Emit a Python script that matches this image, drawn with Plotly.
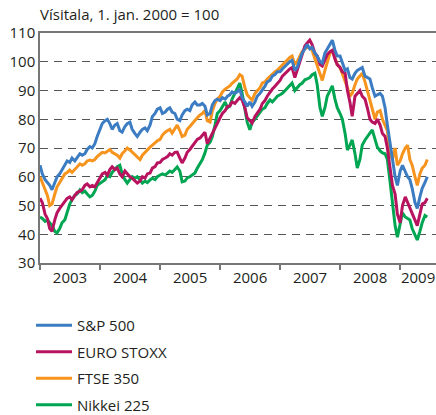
import pandas as pd
import plotly.graph_objects as go

# Semi-monthly observation dates (1st and 15th), Jan 2003 - Jun 2009
dates = pd.date_range("2003-01-01", "2009-06-15", freq="SMS")

sp500 = [
    64, 61, 59, 58, 57, 55.5, 58, 60, 61, 62.5, 64.5, 65.5, 65, 66.5, 65.5, 66.5, 68, 67.5, 68, 69.5, 70.5, 70, 71.5, 74,
    76.5, 78.5, 79.5, 80, 78.5, 76.5, 78, 78.5, 76, 75.5, 77.5, 78.5, 79, 76.5, 75, 74, 75.5, 76.5, 77, 76, 78, 81, 82, 83.5,
    84, 82, 82.5, 83.5, 84, 82.5, 82, 80, 79.5, 81.5, 83, 83.5, 83, 85, 86, 85, 85, 85.5, 84.5, 81.5, 82, 85, 86.5, 87,
    86.5, 87.5, 87, 88, 88.5, 89.5, 89, 89.5, 90.5, 87.5, 86, 84.5, 86, 84.5, 86, 88, 89, 90, 91.5, 93, 93.5, 95, 95.5, 96.5,
    96.5, 97.5, 98.5, 99.5, 100, 100.5, 97, 98, 101, 103, 104.5, 106, 104.5, 105, 103, 102, 100, 99.5, 103, 104.5, 106, 107.5, 104, 102,
    102, 100, 97, 97.5, 94.5, 94, 96, 97, 97.5, 98, 95, 94.5, 94, 91, 88, 88.5, 89, 88, 84, 78, 71, 65, 60, 57,
    62, 64, 62, 60, 59, 56, 51, 49, 53, 56, 58, 60,
]
euro_stoxx = [
    52.5, 51, 47, 45.5, 42, 41, 45, 47.5, 49, 50, 51.5, 52.5, 53, 52, 53.5, 54.5, 55, 55.5, 57, 57.5, 56.5, 57, 56.5, 58,
    60, 61, 61.5, 60.5, 62.5, 63.5, 62.5, 63, 61, 60, 62, 61, 60, 59.5, 58.5, 57.8, 58.5, 60, 59.5, 61, 61.3, 63, 63.5, 64.8,
    65, 66, 66.5, 67, 68, 67.5, 68.5, 68.6, 66.5, 64.8, 66.5, 68.5, 69.5, 70.5, 72, 73, 73.5, 74.5, 75.5, 71.5, 73.5, 75.5, 77, 79,
    80.5, 82, 83, 84.5, 84.6, 86, 85.5, 86.5, 87.5, 86.7, 84, 80.5, 79.5, 78.7, 81, 82, 83.5, 85.5, 86.5, 88, 89.5, 90.5, 91.5, 92.5,
    93.5, 95, 96, 97, 97.5, 98, 94.5, 97, 100, 102.5, 105.5, 106.5, 107.5, 106, 103, 102, 99, 98.5, 101, 102.5, 103.5, 104, 101, 99,
    98, 96.5, 96, 90, 86, 81, 88, 89, 90, 88, 87, 84, 80, 79, 78.5, 80, 78, 75, 74, 70, 63, 57, 54, 47,
    44, 50, 53, 51, 49.5, 47, 44.5, 43, 47, 50.5, 51, 52.5,
]
ftse350 = [
    60, 58, 55, 53.5, 50, 50.5, 54, 56.5, 58, 59.5, 61, 61.5, 62.3, 61.5, 62.5, 63.5, 64.5, 64, 64.5, 65.5, 65.8, 65.5, 66, 67,
    68, 68.5, 68.3, 69, 69.5, 68.5, 68, 67.5, 66.5, 68, 69, 70, 69.3, 68.5, 67.5, 67, 66, 67.5, 68.5, 69.5, 70.3, 71, 72, 72.5,
    73, 74.5, 75.5, 76, 76.5, 75.2, 77, 78, 76, 74, 74.5, 76.5, 77.5, 78.5, 79.5, 80.5, 81.5, 82, 83, 79.5, 79, 83, 85.5, 87,
    88, 89.5, 90.5, 91, 91.6, 92.5, 93.5, 94, 95.5, 95, 91, 88.5, 87.5, 86.7, 89, 90, 91, 92.6, 93, 94, 95, 95.5, 96.5, 97,
    98, 99, 100, 101, 101.5, 102, 99, 100, 102, 103.5, 104.5, 105, 105, 104, 101, 98.5, 96, 93.5, 97, 100, 103, 104, 101, 99,
    98, 96, 93, 91, 88, 89, 92, 94, 95, 96, 93, 90, 86, 83, 80, 82.5, 83, 80, 78, 76, 68, 66, 70, 64,
    65.5, 68, 70, 71, 66, 64, 60, 57, 61, 63, 64, 66,
]
nikkei225 = [
    46, 45.5, 44.5, 45, 44, 43, 41, 40.5, 42, 44, 45, 48, 50.5, 52, 53.5, 54, 55.4, 54.5, 55, 54, 53, 53.5, 55, 57,
    57.8, 58.5, 59, 60.5, 60, 61.5, 62.5, 63.5, 64, 61, 59, 57.8, 59, 60, 59.5, 60, 58.9, 57.8, 58.5, 58, 58.9, 59.5, 59, 60,
    60.6, 61, 60.6, 61.3, 62, 61.5, 62.5, 63.4, 62, 58.2, 58.5, 59.6, 60, 60.5, 61.3, 63, 64.5, 66, 68.3, 71, 72, 74, 78, 82,
    83, 84.5, 86, 84, 84.6, 87, 89, 91, 92.6, 89, 84, 79, 76.3, 79, 80, 81, 82.5, 83.5, 84, 85.5, 86.7, 86, 87, 88,
    88.5, 89, 90, 91, 92, 92.6, 90, 91, 92, 92.5, 93.7, 94, 94.5, 95.5, 96, 92, 84, 81, 84, 88, 90, 91.6, 87, 84,
    82, 80, 75, 69.3, 71, 72.8, 68, 63, 66, 71, 72.8, 74, 75.5, 76.3, 73, 70.3, 69, 68.3, 68, 66, 58, 50, 43, 39,
    44, 47.4, 46, 45.5, 45, 42, 40, 38, 41, 44, 46.5, 46,
]

series_names = ["S&P 500", "EURO STOXX", "FTSE 350", "Nikkei 225"]
series_values = [sp500, euro_stoxx, ftse350, nikkei225]
series_colors = ["#3b7cc2", "#b8135f", "#f7941d", "#00a651"]

# x-axis: year labels centred in each year's span (last year's span ends at the axis end)
x_start, x_end = "2003-01-01", "2009-08-07"
year_labels = ["2003", "2004", "2005", "2006", "2007", "2008", "2009"]
label_pos = []
for y in year_labels:
    a = pd.Timestamp(f"{y}-01-01")
    b = min(pd.Timestamp(f"{int(y) + 1}-01-01"), pd.Timestamp(x_end))
    label_pos.append(a + (b - a) / 2)

FONT = "Open Sans"
TXT = "#231f20"

fig = go.Figure()
# draw order: Nikkei at bottom, S&P 500 on top; legend order by rank
for rank in [3, 2, 1, 0]:
    fig.add_trace(go.Scatter(
        x=dates, y=series_values[rank], name=series_names[rank],
        mode="lines", line=dict(color=series_colors[rank], width=3),
        legendrank=rank + 1, legendgroup=series_names[rank],
    ))

fig.update_layout(
    width=436, height=415,
    margin=dict(l=40, r=0, t=33, b=152, autoexpand=False),
    paper_bgcolor="white", plot_bgcolor="white",
    font=dict(family=FONT, size=15, color=TXT),
    showlegend=True,
    legend=dict(
        x=-0.0227, y=-0.2, xanchor="left", yanchor="top",
        orientation="v", tracegroupgap=4, itemwidth=36,
        font=dict(family=FONT, size=15, color=TXT),
        bgcolor="rgba(0,0,0,0)",
    ),
    annotations=[dict(
        text="Vísitala, 1. jan. 2000 = 100", xref="paper", yref="paper",
        x=-0.005, y=1.0, xanchor="left", yanchor="bottom", yshift=7,
        showarrow=False, font=dict(family=FONT, size=15, color=TXT),
    )],
)

fig.update_xaxes(
    type="date", range=[x_start, x_end],
    tickmode="array", tickvals=label_pos, ticktext=year_labels, ticks="",
    minor=dict(dtick="M12", tick0="2003-01-01", ticks="outside", ticklen=5,
               tickcolor="#777", tickwidth=1.5, showgrid=False),
    showline=True, linecolor="#777", linewidth=1.5, mirror=True,
    showgrid=False, zeroline=False,
    tickfont=dict(family=FONT, size=15, color=TXT),
)
fig.update_yaxes(
    range=[30, 110], dtick=10, tick0=30,
    showline=True, linecolor="#777", linewidth=1.5,
    ticks="", showgrid=True, gridcolor="#555", gridwidth=1, griddash="8px,6px",
    zeroline=False,
    tickfont=dict(family=FONT, size=15, color=TXT),
)

fig.write_html("out.html", config={"displayModeBar": False},
               post_script="document.body.style.margin='0';")
